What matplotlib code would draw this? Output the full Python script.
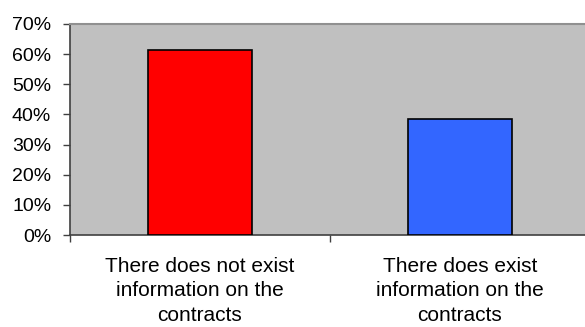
import matplotlib.pyplot as plt
from matplotlib.ticker import FixedLocator, PercentFormatter

plt.rcParams['font.family'] = ['Liberation Sans', 'DejaVu Sans']

categories = ["There does not exist\ninformation on the\ncontracts",
              "There does exist\ninformation on the\ncontracts"]
shares = [61.5, 38.5]
bar_colors = ["#FF0000", "#3366FF"]
y_ticks = [0, 10, 20, 30, 40, 50, 60, 70]

fig = plt.figure(figsize=(5.85, 3.27), dpi=100)
ax = fig.add_axes([70 / 585, 1 - 235 / 327, 520 / 585, 211 / 327])
ax.set_facecolor("#C0C0C0")

x = range(len(categories))
ax.bar(x, shares, width=0.4, color=bar_colors, edgecolor="black", linewidth=1.2, zorder=3)

ax.set_xlim(-0.5, 1.5)
ax.set_ylim(0, 70)
ax.set_yticks(y_ticks)
ax.yaxis.set_major_formatter(PercentFormatter(decimals=0))
ax.tick_params(axis="y", direction="out", length=5, width=1, color="#404040",
               labelsize=14, pad=8.5)

# category boundaries get ticks, labels sit between them
ax.xaxis.set_major_locator(FixedLocator([-0.5, 0.5, 1.5]))
ax.xaxis.set_minor_locator(FixedLocator(list(x)))
ax.set_xticklabels([], minor=False)
ax.set_xticklabels(categories, minor=True, fontsize=15, linespacing=1.38)
ax.tick_params(axis="x", which="major", direction="out", length=5, width=1, color="#404040")
ax.tick_params(axis="x", which="minor", length=0, pad=15.5)

for side in ["left", "bottom"]:
    ax.spines[side].set_color("#404040")
    ax.spines[side].set_linewidth(1.2)
ax.spines["top"].set_color("#909090")
ax.spines["top"].set_linewidth(1.5)
ax.spines["right"].set_visible(False)

fig.savefig("out.png", dpi=100)
